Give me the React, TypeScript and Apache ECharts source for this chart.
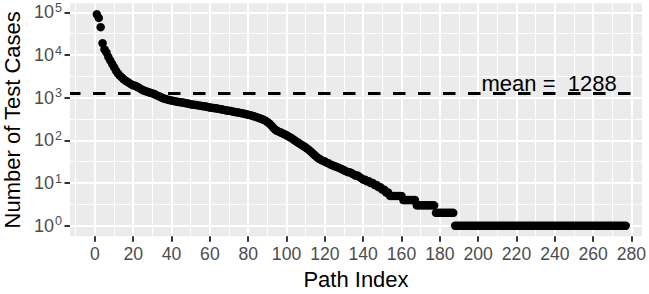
import React, { useEffect, useRef } from "react";
import * as echarts from "echarts";

// Number of test cases per path, sorted descending (path index = position + 1)
const testCases: number[] = [
  90000, 74000, 45000, 19000, 13500, 11500, 9000, 7500, 6200, 5200,
  4300, 3700, 3300, 3000, 2700, 2500, 2350, 2200, 2050, 1950,
  1900, 1800, 1700, 1600, 1500, 1450, 1400, 1350, 1300, 1260,
  1220, 1150, 1100, 1050, 1000, 960, 930, 900, 880, 860,
  840, 820, 800, 790, 780, 770, 750, 740, 720, 700,
  690, 680, 670, 660, 650, 640, 630, 620, 605, 590,
  582, 575, 565, 555, 545, 535, 522, 510, 502, 495,
  485, 475, 465, 455, 448, 440, 430, 420, 410, 400,
  390, 380, 368, 355, 342, 330, 318, 305, 290, 270,
  250, 225, 200, 180, 168, 160, 153, 146, 139, 132,
  124, 117, 110, 102, 95, 89, 83, 78, 73, 68,
  63, 58, 53, 48, 44, 40, 37, 35, 33, 32,
  30, 29, 27, 26, 25, 24, 23, 22, 21, 20,
  19, 18, 18, 17, 16, 15, 15, 14, 13, 12,
  12, 11, 11, 10, 10, 9, 9, 8, 8, 7,
  7, 6, 6, 5, 5, 5, 5, 5, 5, 5,
  4, 4, 4, 4, 4, 4, 4, 3, 3, 3,
  3, 3, 3, 3, 3, 3, 3, 2, 2, 2,
  2, 2, 2, 2, 2, 2, 2, 1, 1, 1,
  1, 1, 1, 1, 1, 1, 1, 1, 1, 1,
  1, 1, 1, 1, 1, 1, 1, 1, 1, 1,
  1, 1, 1, 1, 1, 1, 1, 1, 1, 1,
  1, 1, 1, 1, 1, 1, 1, 1, 1, 1,
  1, 1, 1, 1, 1, 1, 1, 1, 1, 1,
  1, 1, 1, 1, 1, 1, 1, 1, 1, 1,
  1, 1, 1, 1, 1, 1, 1, 1, 1, 1,
  1, 1, 1, 1, 1, 1, 1, 1, 1, 1,
  1, 1, 1, 1, 1, 1, 1,
];

const meanValue = 1288;

// Axis breaks
const xTicks: number[] = [0, 20, 40, 60, 80, 100, 120, 140, 160, 180, 200, 220, 240, 260, 280];
const xMinorBreaks: number[] = [-10, 10, 30, 50, 70, 90, 110, 130, 150, 170, 190, 210, 230, 250, 270];
const yExponents: number[] = [0, 1, 2, 3, 4, 5];
const yMinorExponents: number[] = [0.5, 1.5, 2.5, 3.5, 4.5];

const FONT = "'Liberation Sans', Arial, Helvetica, sans-serif";

export default function App() {
  const ref = useRef<HTMLDivElement>(null);

  useEffect(() => {
    if (!ref.current) return;
    const chart = echarts.init(ref.current, undefined, { renderer: "svg" });

    const points = testCases.map((v, i) => [i + 1, Math.log10(v)]);

    const gridLines = [
      ...xMinorBreaks.map((v) => ({ xAxis: v, lineStyle: { width: 1.07 } })),
      ...xTicks.map((v) => ({ xAxis: v, lineStyle: { width: 2.1 } })),
      ...yMinorExponents.map((v) => ({ yAxis: v, lineStyle: { width: 1.07 } })),
      ...yExponents.map((v) => ({ yAxis: v, lineStyle: { width: 2.1 } })),
    ];

    chart.setOption({
      animation: false,
      grid: {
        left: 70,
        right: 7,
        top: 3.3,
        bottom: 57.7,
        show: true,
        backgroundColor: "#EBEBEB",
        borderWidth: 0,
        containLabel: false,
        outerBoundsMode: "none",
      },
      xAxis: {
        type: "value",
        min: -13,
        max: 285.5,
        position: "bottom",
        axisLine: { show: false, onZero: false },
        splitLine: { show: false },
        axisTick: {
          show: true,
          customValues: xTicks,
          length: 5.5,
          lineStyle: { color: "#333333", width: 2 },
        },
        axisLabel: {
          customValues: xTicks,
          color: "#4D4D4D",
          fontSize: 17.6,
          fontFamily: FONT,
          margin: 9,
        },
        name: "Path Index",
        nameLocation: "middle",
        nameGap: 31,
        nameTextStyle: { fontSize: 22, color: "#000000", fontFamily: FONT },
      },
      yAxis: {
        type: "value",
        min: -0.248,
        max: 5.212,
        position: "left",
        axisLine: { show: false, onZero: false },
        splitLine: { show: false },
        axisTick: {
          show: true,
          customValues: yExponents,
          length: 5.5,
          lineStyle: { color: "#333333", width: 2 },
        },
        axisLabel: {
          customValues: yExponents,
          margin: 8,
          formatter: (v: number) => `{b|10}{s|${Math.round(v)}}`,
          rich: {
            b: { fontSize: 18, color: "#4D4D4D", fontFamily: FONT, lineHeight: 22 },
            s: { fontSize: 12.6, color: "#4D4D4D", fontFamily: FONT, verticalAlign: "top", lineHeight: 14, padding: [0, 0, 0, 1] },
          },
        },
        name: "Number of Test Cases",
        nameLocation: "middle",
        nameGap: 43,
        nameRotate: 90,
        nameTextStyle: { fontSize: 22, color: "#000000", fontFamily: FONT },
      },
      series: [
        {
          type: "scatter",
          data: [],
          z: 0,
          silent: true,
          markLine: {
            z: 0,
            silent: true,
            symbol: ["none", "none"],
            label: { show: false },
            lineStyle: { color: "#FFFFFF", type: "solid" },
            emphasis: { disabled: true },
            data: gridLines,
          },
        },
        {
          type: "scatter",
          z: 10,
          symbol: "circle",
          symbolSize: 8.5,
          itemStyle: { color: "#000000", opacity: 1 },
          data: points,
          markLine: {
            z: 12,
            silent: true,
            symbol: ["none", "none"],
            label: { show: false },
            lineStyle: { color: "#000000", width: 3, type: [12.5, 12.5], dashOffset: 1.7 },
            emphasis: { disabled: true },
            data: [{ yAxis: Math.log10(meanValue) }],
          },
          markPoint: {
            z: 12,
            silent: true,
            symbol: "circle",
            symbolSize: 1,
            itemStyle: { color: "rgba(0,0,0,0)" },
            label: {
              show: true,
              position: "top",
              distance: 0,
              offset: [0, 2],
              formatter: `mean =  ${meanValue}`,
              fontSize: 22,
              color: "#000000",
              fontFamily: FONT,
            },
            data: [{ coord: [237, Math.log10(meanValue)] }],
          },
        },
      ],
    });

    return () => chart.dispose();
  }, []);

  return <div ref={ref} style={{ width: 649, height: 294, position: "absolute", left: 0, top: 0 }} />;
}
